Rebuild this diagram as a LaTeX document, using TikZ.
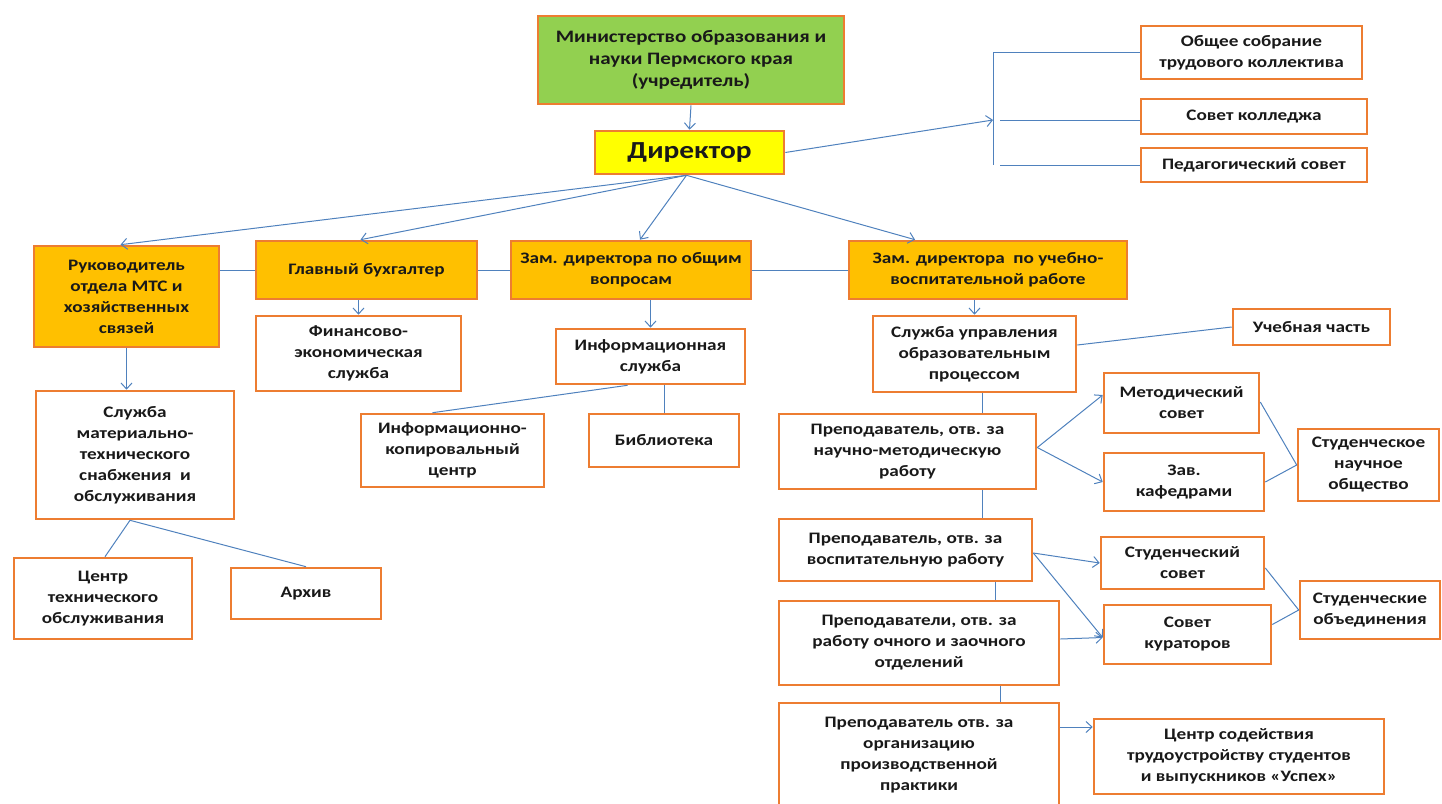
\documentclass[tikz,border=0pt]{standalone}
\usepackage{fontspec}
\setmainfont{Carlito}[FakeStretch=1.2]
\usetikzlibrary{arrows.meta,calc}
\definecolor{bord}{RGB}{237,125,49}
\definecolor{ofill}{RGB}{255,192,0}
\definecolor{gfill}{RGB}{146,208,80}
\definecolor{yfill}{RGB}{255,255,0}
\definecolor{lnk}{RGB}{79,129,189}
\begin{document}
\begin{tikzpicture}[x=1pt,y=-1pt,
  box/.style={draw=bord,line width=2.6pt,fill=white,align=center,inner sep=1pt,
    font=\fontsize{16}{21}\selectfont\bfseries,text=black!90},
  obox/.style={box,fill=ofill},
  lnkline/.style={draw=lnk,line width=1pt},
  arr/.style={lnkline,-{Straight Barb[length=6pt,width=11pt,line width=1pt]}},
  bx/.style n args={2}{minimum width=#1pt,minimum height=#2pt}]
\useasboundingbox (0,0) rectangle (1442,803);
% top
\node[box,fill=gfill,bx={306}{88},font=\fontsize{17.5}{22}\selectfont\bfseries] (min) at (691,60) {Министерство образования и\\науки Пермского края\\(учредитель)};
\node[box,fill=yfill,bx={189}{43},font=\fontsize{24.5}{26}\selectfont\bfseries] (dir) at (689.5,152.5) {Директор};
\node[box,bx={221}{53}] (obs) at (1251.5,52.5) {Общее собрание\\трудового коллектива};
\node[box,bx={226}{35}] (sk) at (1254,116.5) {Совет колледжа};
\node[box,bx={226}{34}] (ps) at (1254,165) {Педагогический совет};
% row of deputies
\node[obox,bx={185}{101}] (ruk) at (126.5,296.5) {Руководитель\\отдела МТС и\\хозяйственных\\связей};
\node[obox,bx={221}{58}] (gb) at (366.5,270) {Главный бухгалтер};
\node[obox,bx={240}{58}] (zo) at (631,270) {Зам. директора по общим\\вопросам};
\node[obox,bx={278}{58}] (zu) at (988,270) {Зам. директора\ \ по учебно-\\воспитательной работе};
% second level
\node[box,bx={205}{75}] (fin) at (358.5,353.5) {Финансово-\\экономическая\\служба};
\node[box,bx={189}{55}] (is) at (650.5,356.5) {Информационная\\служба};
\node[box,bx={183}{73}] (ikc) at (452.5,450.5) {Информационно-\\копировальный\\центр};
\node[box,bx={150}{53}] (bib) at (664,440.5) {Библиотека};
\node[box,bx={203}{76}] (su) at (974.5,354) {Служба управления\\образовательным\\процессом};
\node[box,bx={157}{36}] (uch) at (1311.5,327) {Учебная часть};
\node[box,bx={257}{75}] (nmr) at (907.5,451.5) {Преподаватель, отв. за\\научно-методическую\\работу};
\node[box,bx={155}{60}] (met) at (1181.5,403) {Методический\\совет};
\node[box,bx={160}{58}] (zav) at (1184,482) {Зав.\\кафедрами};
\node[box,bx={141}{72}] (sno) at (1368.5,465) {Студенческое\\научное\\общество};
\node[box,bx={253}{62}] (vr) at (905.5,550) {Преподаватель, отв. за\\воспитательную работу};
\node[box,bx={163}{52}] (ss) at (1182.5,563) {Студенческий\\совет};
\node[box,bx={167}{59}] (kur) at (1187.5,634.5) {Совет\\кураторов};
\node[box,bx={140}{58}] (so) at (1370,610) {Студенческие\\объединения};
\node[box,bx={280}{84}] (ochn) at (919,643) {Преподаватели, отв. за\\работу очного и заочного\\отделений};
\node[box,bx={280}{104}] (opp) at (919,755) {Преподаватель отв. за\\организацию\\производственной\\практики};
\node[box,bx={290}{75}] (cs) at (1239,756.5) {Центр содействия\\трудоустройству студентов\\и выпускников «Успех»};
% left branch
\node[box,bx={198}{128}] (mts) at (135,455) {Служба\\материально-\\технического\\снабжения\ \ и\\обслуживания};
\node[box,bx={178}{81}] (cto) at (103,598.5) {Центр\\технического\\обслуживания};
\node[box,bx={150}{51}] (arh) at (306,593.5) {Архив};
% connectors
\draw[arr] (min.south) -- (dir.north);
\coordinate (br) at (993,120);
\draw[arr] (dir.east) -- (br);
\draw[lnkline] (993,52) -- (993,165);
\draw[lnkline] (993,52) -- (obs.west |- 0,52);
\draw[lnkline] ($(br)+(7,0)$) -- (sk.west |- br);
\draw[lnkline] (1000,165) -- (ps.west);
\coordinate (ds) at ($(dir.south)+(-3,0)$);
\draw[arr] (ds) -- ($(ruk.north)+(-6,0)$);
\draw[arr] (ds) -- ($(gb.north)+(-6,0)$);
\draw[arr] (ds) -- ($(zo.north)+(9,0)$);
\draw[arr] (ds) -- ($(zu.north west)!0.24!(zu.north east)$);
\draw[lnkline] (gb.west -| ruk.east) -- (gb.west);
\draw[lnkline] (gb.east) -- (zo.west);
\draw[lnkline] (zo.east) -- (zu.west);
\draw[arr] (gb.south -| fin.north) -- (fin.north);
\draw[arr] (zo.south -| is.north) -- (is.north);
\draw[arr] (ruk.south) -- (ruk.south |- mts.north);
\draw[arr] (zu.south -| su.north) -- (su.north);
\draw[lnkline] ($(is.south)+(-23,0)$) -- ($(ikc.north)+(-20,0)$);
\draw[lnkline] (is.south -| bib.north) -- (bib.north);
\draw[lnkline] ($(su.east)+(0,-9)$) -- (uch.west);
\draw[lnkline] (su.south -| 982,0) -- (nmr.north -| 982,0);
\draw[arr] ($(nmr.east)+(0,-4)$) -- ($(met.west)+(0,-8)$);
\draw[arr] ($(nmr.east)+(0,-4)$) -- (zav.west);
\draw[lnkline] ($(met.east)+(0,-1)$) -- (sno.west);
\draw[lnkline] (zav.east) -- (sno.west);
\draw[lnkline] (nmr.south -| 982,0) -- (vr.north -| 982,0);
\draw[arr] ($(vr.east)+(0,3)$) -- (ss.west);
\draw[arr] ($(vr.east)+(0,3)$) -- ($(kur.west)+(0,3)$);
\draw[arr] ($(ochn.east)+(0,-4)$) -- ($(kur.west)+(0,3)$);
\draw[lnkline] ($(ss.east)+(0,5)$) -- (so.west);
\draw[lnkline] ($(kur.east)+(0,-10)$) -- (so.west);
\draw[lnkline] (vr.south -| 995,0) -- (ochn.north -| 995,0);
\draw[lnkline] (ochn.south -| 1000,0) -- (opp.north -| 1000,0);
\draw[arr] (opp.east |- 0,727) -- (cs.west |- 0,727);
\draw[lnkline] (mts.south -| 130,0) -- ($(cto.north)+(2,0)$);
\draw[lnkline] (mts.south -| 130,0) -- (arh.north);
\end{tikzpicture}
\end{document}
